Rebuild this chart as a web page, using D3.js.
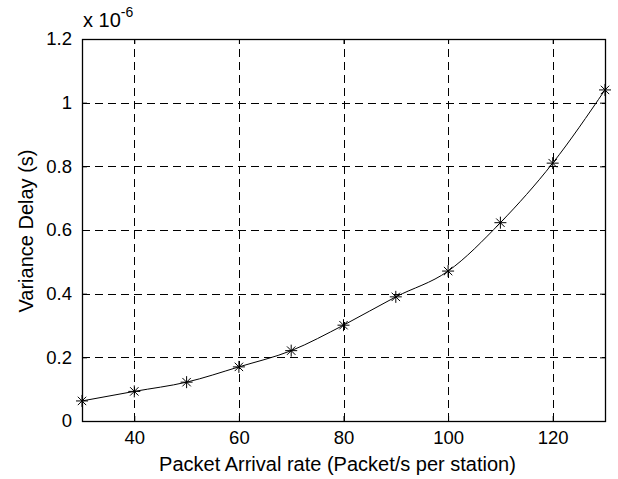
<!doctype html>
<html>
  <head>
    <meta charset="utf-8">
    <title>Variance Delay</title>
    <script src="https://cdnjs.cloudflare.com/ajax/libs/d3/7.8.5/d3.min.js"></script>
    <style>
      body { margin: 0; background: #fff; }
      text { font-family: "Liberation Sans", Arial, sans-serif; fill: #000; }
    </style>
  </head>
  <body>
    <div id="chart"></div>
    <script>
      // data (values in units of 1e-6 s)
      const arrivalRates = [30, 40, 50, 60, 70, 80, 90, 100, 110, 120, 130];
      const varianceDelay = [0.063, 0.093, 0.122, 0.17, 0.221, 0.301, 0.39, 0.471, 0.623, 0.81, 1.04];
      const xTicks = [40, 60, 80, 100, 120];
      const yTicks = [0, 0.2, 0.4, 0.6, 0.8, 1, 1.2];

      const width = 618, height = 479;
      const margin = {top: 39, right: 13, bottom: 58, left: 82};
      const font = 'Liberation Sans, Arial, sans-serif';

      const svg = d3.select('#chart')
        .append('svg')
        .attr('width', width)
        .attr('height', height);

      const x = d3.scaleLinear().domain([30, 130]).range([margin.left, width - margin.right]);
      const y = d3.scaleLinear().domain([0, 1.2]).range([height - margin.bottom, margin.top]);

      const x0 = margin.left, x1 = width - margin.right;
      const y0 = height - margin.bottom, y1 = margin.top;

      // dashed grid
      const grid = svg.append('g')
        .attr('stroke', '#000')
        .attr('stroke-width', 1)
        .attr('stroke-dasharray', '8,5')
        .attr('shape-rendering', 'crispEdges');
      grid.selectAll('.gx').data(xTicks).join('line')
        .attr('x1', d => Math.round(x(d)) + 0.5).attr('x2', d => Math.round(x(d)) + 0.5)
        .attr('y1', y0).attr('y2', y1);
      grid.selectAll('.gy').data(yTicks.filter(d => d > 0 && d < 1.2)).join('line')
        .attr('y1', d => Math.round(y(d)) + 0.5).attr('y2', d => Math.round(y(d)) + 0.5)
        .attr('x1', x0).attr('x2', x1);

      // axes with inward ticks
      svg.append('g')
        .attr('transform', `translate(0,${y0})`)
        .call(d3.axisBottom(x).tickValues(xTicks).tickSizeInner(-5).tickSizeOuter(0).tickPadding(10))
        .call(g => g.select('.domain').remove())
        .call(g => g.selectAll('text').attr('font-size', 18.5).attr('font-family', font));
      svg.append('g')
        .attr('transform', `translate(0,${y1})`)
        .call(d3.axisTop(x).tickValues(xTicks).tickSizeInner(-5).tickSizeOuter(0).tickFormat(''))
        .call(g => g.select('.domain').remove());
      svg.append('g')
        .attr('transform', `translate(${x0},0)`)
        .call(d3.axisLeft(y).tickValues(yTicks).tickSizeInner(-5).tickSizeOuter(0).tickPadding(10)
          .tickFormat(d => d === 0 ? '0' : d === 1 ? '1' : d3.format('.1f')(d)))
        .call(g => g.select('.domain').remove())
        .call(g => g.selectAll('text').attr('font-size', 18.5).attr('font-family', font));
      svg.append('g')
        .attr('transform', `translate(${x1},0)`)
        .call(d3.axisRight(y).tickValues(yTicks).tickSizeInner(-5).tickSizeOuter(0).tickFormat(''))
        .call(g => g.select('.domain').remove());

      // box
      svg.append('rect')
        .attr('x', x0 + 0.5).attr('y', y1 + 0.5)
        .attr('width', x1 - x0).attr('height', y0 - y1)
        .attr('fill', 'none').attr('stroke', '#000').attr('stroke-width', 1.3);

      // line
      const pts = arrivalRates.map((r, i) => [r, varianceDelay[i]]);
      svg.append('path')
        .datum(pts)
        .attr('fill', 'none')
        .attr('stroke', '#000')
        .attr('stroke-width', 1)
        .attr('d', d3.line().x(d => x(d[0])).y(d => y(d[1])).curve(d3.curveMonotoneX));

      // star markers
      const star = svg.append('g').attr('stroke', '#000').attr('stroke-width', 1);
      const s = 6;
      pts.forEach(d => {
        const cx = x(d[0]), cy = y(d[1]);
        star.append('line').attr('x1', cx - s).attr('x2', cx + s).attr('y1', cy).attr('y2', cy);
        star.append('line').attr('x1', cx).attr('x2', cx).attr('y1', cy - s).attr('y2', cy + s);
        star.append('line').attr('x1', cx - s * 0.7).attr('x2', cx + s * 0.7).attr('y1', cy - s * 0.7).attr('y2', cy + s * 0.7);
        star.append('line').attr('x1', cx - s * 0.7).attr('x2', cx + s * 0.7).attr('y1', cy + s * 0.7).attr('y2', cy - s * 0.7);
      });

      // exponent label
      const exp = svg.append('text').attr('x', 83).attr('y', 27).attr('font-size', 20);
      exp.append('tspan').text('x 10');
      exp.append('tspan').attr('dy', -10).attr('font-size', 14).text('-6');

      // axis titles
      svg.append('text')
        .attr('x', (x0 + x1) / 2 - 6).attr('y', 471)
        .attr('text-anchor', 'middle').attr('font-size', 20)
        .text('Packet Arrival rate (Packet/s per station)');
      svg.append('text')
        .attr('transform', `translate(33,${(y0 + y1) / 2 + 1}) rotate(-90)`)
        .attr('text-anchor', 'middle').attr('font-size', 20)
        .text('Variance Delay (s)');
    </script>
  </body>
</html>
